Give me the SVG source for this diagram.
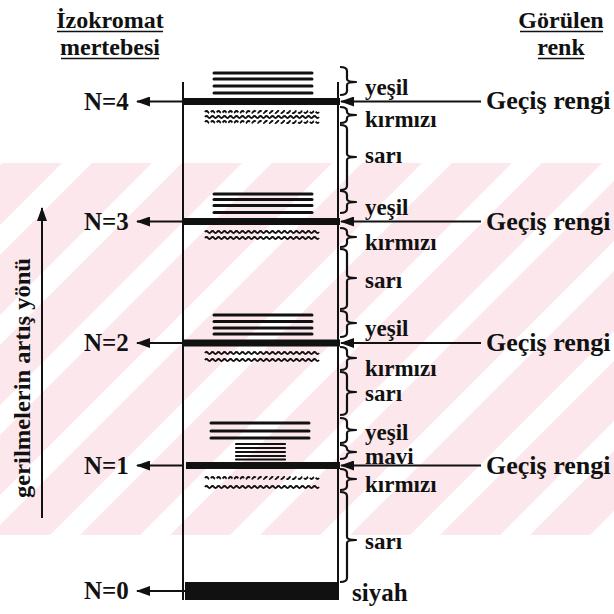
<svg xmlns="http://www.w3.org/2000/svg" width="614" height="614" viewBox="0 0 614 614" font-family="'Liberation Serif', 'Times New Roman', serif">
<defs>
<style>
text{font-family:"Liberation Serif","Times New Roman",serif;fill:#111;font-weight:bold}
.hd{font-size:24px}
.n{font-size:25px}
.lb{font-size:23px}
.gr{font-size:26px}
.ax{font-size:23px}
.ul{stroke:#111;stroke-width:1.6}
.st{stroke:#111;stroke-width:3;stroke-linecap:round}
.sst{stroke:#111;stroke-width:2.2;stroke-linecap:round}
.bar{fill:#111}
.col{stroke:#111;stroke-width:2;fill:none}
.br{stroke:#111;stroke-width:2.2;fill:none;stroke-linejoin:round}
.wv{stroke:#111;stroke-width:2;fill:none}
.dw{stroke:#111;stroke-width:2;fill:none;stroke-dasharray:5 2}
.con{stroke:#111;stroke-width:2;fill:none;marker-end:url(#ah)}
.wm{fill:#fce8ec}
</style>
<marker id="ah" viewBox="0 0 14 10" refX="13" refY="5" markerWidth="14" markerHeight="10" markerUnits="userSpaceOnUse" orient="auto"><path d="M0,0 L14,5 L0,10 z" fill="#111"/></marker>
<path id="wave" d="M0,0 q1.5,-2 3,0 t3,0 t3,0 t3,0 t3,0 t3,0 t3,0 t3,0 t3,0 t3,0 t3,0 t3,0 t3,0 t3,0 t3,0 t3,0 t3,0 t3,0 t3,0 t3,0 t3,0 t3,0 t3,0 t3,0 t3,0 t3,0 t3,0 t3,0 t3,0 t3,0 t3,0 t3,0 t3,0 t3,0 t3,0 t3,0 t3,0 t3,0"/>
<clipPath id="wmc"><rect x="0" y="163" width="614" height="372"/></clipPath>
</defs>

<g id="watermark" clip-path="url(#wmc)">
<polygon class="wm" points="-370,535 -310,535 62,163 2,163"/>
<polygon class="wm" points="-280,535 -220,535 152,163 92,163"/>
<polygon class="wm" points="-190,535 -130,535 242,163 182,163"/>
<polygon class="wm" points="-100,535 -40,535 332,163 272,163"/>
<polygon class="wm" points="-10,535 50,535 422,163 362,163"/>
<polygon class="wm" points="80,535 140,535 512,163 452,163"/>
<polygon class="wm" points="170,535 230,535 602,163 542,163"/>
<polygon class="wm" points="260,535 320,535 692,163 632,163"/>
<polygon class="wm" points="350,535 410,535 782,163 722,163"/>
<polygon class="wm" points="440,535 500,535 872,163 812,163"/>
<polygon class="wm" points="530,535 590,535 962,163 902,163"/>
</g>

<g id="header-left">
<text class="hd" x="110" y="28" text-anchor="middle">İzokromat</text>
<line class="ul" x1="57" y1="31.5" x2="163" y2="31.5"/>
<text class="hd" x="110" y="55" text-anchor="middle">mertebesi</text>
<line class="ul" x1="61" y1="58.5" x2="159" y2="58.5"/>
</g>
<g id="header-right">
<text class="hd" x="561" y="28" text-anchor="middle">Görülen</text>
<line class="ul" x1="520" y1="31.5" x2="603" y2="31.5"/>
<text class="hd" x="561" y="55" text-anchor="middle">renk</text>
<line class="ul" x1="538" y1="58.5" x2="584" y2="58.5"/>
</g>

<g id="stress-axis">
<line class="con" x1="42" y1="518" x2="42" y2="208"/>
<text class="ax" transform="translate(30,378) rotate(-90)" text-anchor="middle" textLength="240" lengthAdjust="spacingAndGlyphs">gerilmelerin artış yönü</text>
</g>

<g id="column">
<line class="col" x1="183" y1="82" x2="183" y2="600"/>
<line class="col" x1="338" y1="82" x2="338" y2="600"/>
</g>

<g id="order-4">
<line class="st" x1="214" y1="73" x2="312" y2="73"/>
<line class="st" x1="214" y1="79" x2="312" y2="79"/>
<line class="st" x1="214" y1="86" x2="312" y2="86"/>
<line class="st" x1="214" y1="93" x2="312" y2="93"/>
<rect class="bar" x="183" y="98" width="157" height="7"/>
<use href="#wave" class="dw" x="205" y="112"/>
<use href="#wave" class="wv" x="205" y="117"/>
<use href="#wave" class="dw" x="205" y="122"/>
<text class="n" x="84" y="110">N=4</text>
</g>

<g id="order-3">
<line class="st" x1="214" y1="194" x2="312" y2="194"/>
<line class="st" x1="214" y1="199.5" x2="312" y2="199.5"/>
<line class="st" x1="214" y1="205.5" x2="312" y2="205.5"/>
<line class="st" x1="214" y1="212.5" x2="312" y2="212.5"/>
<rect class="bar" x="183" y="218" width="157" height="7"/>
<use href="#wave" class="wv" x="205" y="232"/>
<use href="#wave" class="wv" x="205" y="238"/>
<text class="n" x="84" y="230">N=3</text>
</g>

<g id="order-2">
<line class="st" x1="214" y1="315" x2="312" y2="315"/>
<line class="st" x1="214" y1="321.5" x2="312" y2="321.5"/>
<line class="st" x1="214" y1="328" x2="312" y2="328"/>
<line class="st" x1="214" y1="334" x2="312" y2="334"/>
<rect class="bar" x="183" y="339.5" width="157" height="7"/>
<use href="#wave" class="wv" x="205" y="353"/>
<use href="#wave" class="wv" x="205" y="360"/>
<text class="n" x="84" y="351">N=2</text>
</g>

<g id="order-1">
<line class="st" x1="211" y1="423" x2="309" y2="423"/>
<line class="st" x1="211" y1="431" x2="309" y2="431"/>
<line class="st" x1="211" y1="438" x2="309" y2="438"/>
<line class="sst" x1="236" y1="444" x2="285" y2="444"/>
<line class="sst" x1="236" y1="448" x2="285" y2="448"/>
<line class="sst" x1="236" y1="452" x2="285" y2="452"/>
<line class="sst" x1="236" y1="456" x2="285" y2="456"/>
<line class="sst" x1="236" y1="459.5" x2="285" y2="459.5"/>
<rect class="bar" x="186" y="462" width="154" height="7"/>
<use href="#wave" class="dw" x="205" y="478"/>
<use href="#wave" class="wv" x="205" y="487"/>
<text class="n" x="84" y="474">N=1</text>
</g>

<g id="order-0">
<rect class="bar" x="185" y="582" width="154" height="18"/>
<text class="n" x="84" y="599">N=0</text>
</g>

<g id="braces">
<path class="br" d="M340,67 Q347,67 347,71 L347,79 Q347,82 356,82 Q347,82 347,85 L347,91 Q347,95 340,95"/>
<path class="br" d="M340,107 Q347,107 347,111 L347,112 Q347,115 356,115 Q347,115 347,118 L347,119 Q347,123 340,123"/>
<path class="br" d="M340,125 Q347,125 347,129 L347,154 Q347,157 356,157 Q347,157 347,160 L347,186 Q347,190 340,190"/>
<path class="br" d="M340,191 Q347,191 347,195 L347,199 Q347,202 356,202 Q347,202 347,205 L347,209 Q347,213 340,213"/>
<path class="br" d="M340,228 Q347,228 347,232 L347,234 Q347,237 356,237 Q347,237 347,240 L347,243 Q347,247 340,247"/>
<path class="br" d="M340,249 Q347,249 347,253 L347,275 Q347,278 356,278 Q347,278 347,281 L347,305 Q347,309 340,309"/>
<path class="br" d="M340,311 Q347,311 347,315 L347,320 Q347,323 356,323 Q347,323 347,326 L347,333 Q347,337 340,337"/>
<path class="br" d="M340,347 Q347,347 347,351 L347,355 Q347,358 356,358 Q347,358 347,361 L347,366 Q347,370 340,370"/>
<path class="br" d="M340,372 Q347,372 347,376 L347,389 Q347,392 356,392 Q347,392 347,395 L347,411 Q347,415 340,415"/>
<path class="br" d="M340,418 Q347,418 347,422 L347,427 Q347,430 356,430 Q347,430 347,433 L347,439 Q347,443 340,443"/>
<path class="br" d="M340,445 Q347,445 347,449 Q347,452 356,452 Q347,452 347,455 Q347,459 340,459"/>
<path class="br" d="M340,469 Q347,469 347,473 L347,476 Q347,479 356,479 Q347,479 347,482 L347,486 Q347,490 340,490"/>
<path class="br" d="M340,492 Q347,492 347,496 L347,537 Q347,540 356,540 Q347,540 347,543 L347,578 Q347,582 340,582"/>
</g>

<g id="color-labels">
<text class="lb" x="365" y="95">yeşil</text>
<text class="lb" x="365" y="127">kırmızı</text>
<text class="lb" x="365" y="163">sarı</text>
<text class="lb" x="365" y="215">yeşil</text>
<text class="lb" x="365" y="250">kırmızı</text>
<text class="lb" x="365" y="288">sarı</text>
<text class="lb" x="365" y="336">yeşil</text>
<text class="lb" x="365" y="376">kırmızı</text>
<text class="lb" x="365" y="401">sarı</text>
<text class="lb" x="365" y="440">yeşil</text>
<text class="lb" x="365" y="464">mavi</text>
<text class="lb" x="365" y="492">kırmızı</text>
<text class="lb" x="365" y="549">sarı</text>
<text class="n" x="352" y="601">siyah</text>
</g>

<g id="transition-labels">
<text class="gr" x="486" y="109">Geçiş rengi</text>
<text class="gr" x="486" y="230">Geçiş rengi</text>
<text class="gr" x="486" y="351">Geçiş rengi</text>
<text class="gr" x="486" y="474">Geçiş rengi</text>
</g>

<g id="connectors">
<line class="con" x1="183" y1="101.5" x2="137" y2="101.5"/>
<line class="con" x1="183" y1="221.5" x2="137" y2="221.5"/>
<line class="con" x1="183" y1="343" x2="137" y2="343"/>
<line class="con" x1="183" y1="465.5" x2="137" y2="465.5"/>
<line class="con" x1="185" y1="591" x2="137" y2="591"/>
<line class="con" x1="481" y1="101.5" x2="341" y2="101.5"/>
<line class="con" x1="481" y1="221.5" x2="341" y2="221.5"/>
<line class="con" x1="481" y1="343" x2="341" y2="343"/>
<line class="con" x1="481" y1="465.5" x2="341" y2="465.5"/>
</g>
</svg>
